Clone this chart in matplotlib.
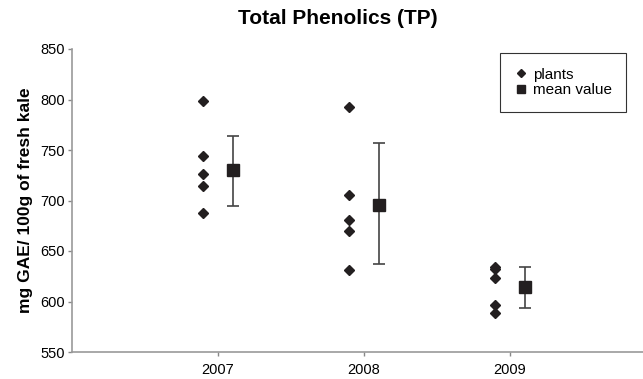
import matplotlib
matplotlib.use('Agg')
import matplotlib.pyplot as plt

plt.rcParams['font.family'] = ['Liberation Sans', 'DejaVu Sans']

years = ['2007', '2008', '2009']
plants = [
    [799, 744, 726, 714, 688],
    [793, 705, 681, 670, 631],
    [634, 632, 623, 597, 589],
]
mean_value = [730, 696, 614]
err_low = [695, 637, 594]
err_high = [764, 757, 634]

fig = plt.figure(figsize=(6.43, 3.79), dpi=100)
ax = fig.add_axes([72/643, 27/379, 584/643, 303/379])

pos = [1, 2, 3]
for i, p in enumerate(pos):
    ax.plot([p - 0.1] * len(plants[i]), plants[i], 'D', color='#231f20',
            markersize=5, linestyle='none', label='plants' if i == 0 else None)

xm = [p + 0.1 for p in pos]
yerr = [[m - lo for m, lo in zip(mean_value, err_low)],
        [hi - m for m, hi in zip(mean_value, err_high)]]
ax.errorbar(xm, mean_value, yerr=yerr, fmt='none', ecolor='#444444',
            elinewidth=1.2, capsize=4, capthick=1.2, zorder=2)
ax.plot(xm, mean_value, 's', color='#231f20', markersize=8, linestyle='none',
        label='mean value', zorder=3)

ax.set_xlim(0, 4)
ax.set_ylim(550, 850)
ax.set_yticks(range(550, 851, 50))
ax.set_xticks(pos)
ax.set_xticklabels(years)
ax.tick_params(axis='both', labelsize=10.5, colors='#888888', labelcolor='black',
               length=3, width=1, direction='out')
ax.tick_params(axis='y', pad=2)
ax.tick_params(axis='x', pad=5)

for s in ['top', 'right']:
    ax.spines[s].set_visible(False)
for s in ['left', 'bottom']:
    ax.spines[s].set_color('#999999')
    ax.spines[s].set_linewidth(1.2)

ax.set_ylabel('mg GAE/ 100g of fresh kale', fontsize=12.5, fontweight='bold',
              labelpad=5)
fig.text(338/643, 1 - 18/379, 'Total Phenolics (TP)', fontsize=15,
         fontweight='bold', ha='center', va='center')

leg = ax.legend(loc='upper left', bbox_to_anchor=(500/643, 1 - 53/379),
                bbox_transform=fig.transFigure, fontsize=11, frameon=True,
                fancybox=False, edgecolor='black', borderpad=0.95,
                handlelength=0.8, handletextpad=0.4, labelspacing=0.1,
                markerscale=0.75, borderaxespad=0)
leg.get_frame().set_linewidth(0.8)

fig.savefig('out.png', dpi=100)
